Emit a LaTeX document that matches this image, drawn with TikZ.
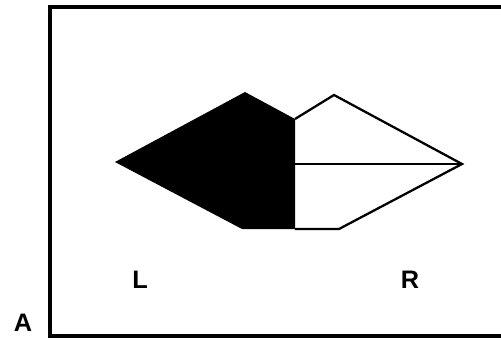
\documentclass[tikz,border=0pt]{standalone}
\usepackage{fontspec}
\setmainfont{Liberation Sans}
\usepackage{tikz}
\usetikzlibrary{positioning, calc}

\tikzset{
  lbl/.style={font=\bfseries\Large, inner sep=0pt},
  outline/.style={line width=1.3pt, line join=miter},
}

\begin{document}
\begin{tikzpicture}
          \useasboundingbox (0,0) rectangle (10.02,6.78);
          \clip (0,0) rectangle (10.02,6.78);
          \draw[line width=2pt] (10.2,6.64) -- (1.0,6.64) -- (1.0,0.06) -- (10.2,0.06);
          % corner points of the shape
          \coordinate (ltip) at (2.30,3.54);
          \coordinate (lpeak) at (4.90,4.94);
          \coordinate (notch) at (5.90,4.40);
          \coordinate (mid) at (5.90,3.50);
          \coordinate (lbot) at (4.84,2.20);
          \coordinate (cbot) at (5.90,2.20);
          \coordinate (rpeak) at (6.68,4.88);
          \coordinate (rtip) at (9.24,3.50);
          \coordinate (rbot) at (6.78,2.20);
          \fill[black] (ltip) -- (lpeak) -- (notch) -- (cbot) -- (lbot) -- cycle;
          \draw[outline] (notch) -- (rpeak) -- (rtip) -- (rbot) -- (cbot);
          \draw[outline] (mid) -- (rtip);
          \node[lbl] (labL) at (2.80,1.18) {L};
          \node[lbl] (labR) at (8.20,1.18) {R};
          \node[lbl] (labA) at (0.46,0.32) {A};
        \end{tikzpicture}
\end{document}
